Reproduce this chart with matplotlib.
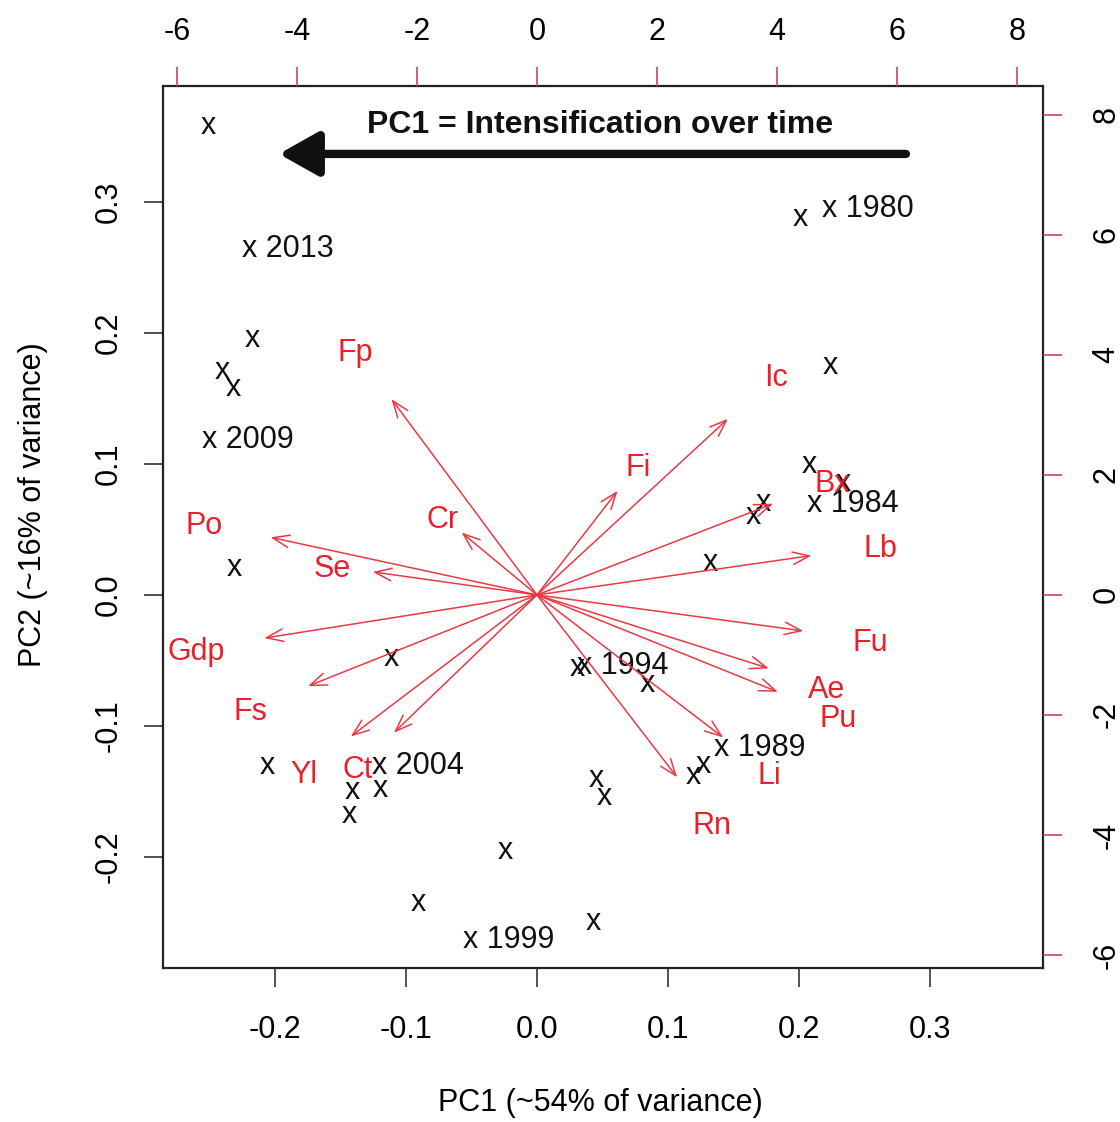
import matplotlib.pyplot as plt
import matplotlib.transforms as mtransforms

plt.rcParams['font.family'] = ['Liberation Sans', 'DejaVu Sans']

# PCA scores (observations), PC1 / PC2
pc1 = [-0.251, -0.190, -0.2176, -0.2405, -0.232, -0.2206, -0.231, -0.1115,
       -0.206, -0.0908, -0.141, -0.120, -0.143, -0.0908, -0.0214, -0.0244,
       0.0427, 0.045, 0.051, 0.0656, 0.0305, 0.084, 0.132, 0.165,
       0.1725, 0.208, 0.2336, 0.241, 0.2237, 0.2008, 0.2527, 0.170,
       0.1267, 0.119]
pc2 = [0.360, 0.266, 0.1977, 0.1733, 0.160, 0.1206, 0.0229, -0.0458,
       -0.128, -0.128, -0.147, -0.146, -0.166, -0.233, -0.261, -0.193,
       -0.247, -0.138, -0.152, -0.052, -0.0534, -0.0656, 0.0267, 0.0626,
       0.0725, 0.1015, 0.0878, 0.0718, 0.177, 0.290, 0.297, -0.1145,
       -0.1275, -0.136]
obs_labels = ["x", "x 2013", "x", "x", "x", "x 2009", "x", "x",
              "x", "x 2004", "x", "x", "x", "x", "x 1999", "x",
              "x", "x", "x", "x 1994", "x", "x", "x", "x",
              "x", "x", "x", "x 1984", "x", "x", "x 1980", "x 1989",
              "x", "x"]

# variable loadings (top / right axis units)
var_names = ["Fp", "Ic", "Fi", "Cr", "Po", "Se", "Gdp", "Fs", "Yl", "Ct",
             "Bx", "Lb", "Fu", "Ae", "Pu", "Li", "Rn"]
load1 = [-3.03, 3.98, 1.68, -1.57, -5.55, -3.42, -5.68, -4.77, -3.88, -2.98,
         4.92, 5.72, 5.55, 4.83, 5.02, 3.88, 2.92]
load2 = [4.08, 3.67, 2.17, 1.30, 1.20, 0.48, -0.90, -1.90, -2.95, -2.87,
         1.90, 0.82, -0.75, -1.53, -2.02, -2.97, -3.80]

red = "#e8202a"
arrowred = "#e83a44"
tickred = "#c84850"
fs = 22

fig = plt.figure(figsize=(11.2, 11.22), dpi=100)
rect = [0.1455, 0.1373, 0.7857, 0.7861]
ax = fig.add_axes(rect)
ax.set_xlim(-0.2855, 0.386)
ax.set_ylim(-0.2847, 0.3885)
tr1 = mtransforms.offset_copy(ax.transData, fig=fig, y=-3, units="dots")

for x, y, lab in zip(pc1, pc2, obs_labels):
    ax.text(x, y, lab, ha="center", va="center", fontsize=fs,
            color="#111111", transform=tr1)

ax.set_xticks([-0.2, -0.1, 0.0, 0.1, 0.2, 0.3])
ax.set_xticklabels(["-0.2", "-0.1", "0.0", "0.1", "0.2", "0.3"])
ax.set_yticks([-0.2, -0.1, 0.0, 0.1, 0.2, 0.3])
ax.set_yticklabels(["-0.2", "-0.1", "0.0", "0.1", "0.2", "0.3"],
                   rotation=90, va="center")
ax.tick_params(labelsize=fs, length=14, width=1.2, color="#333333")
ax.tick_params(axis="x", pad=20)
ax.tick_params(axis="y", pad=14)
ax.set_xlabel("PC1 (~54% of variance)", fontsize=fs)
ax.xaxis.set_label_coords(0.497, -0.136)
ax.set_ylabel("PC2 (~16% of variance)", fontsize=fs)
ax.yaxis.set_label_coords(-0.131, 0.525)
for s in ax.spines.values():
    s.set_linewidth(1.6)
    s.set_color("#222222")

# secondary axes for loadings
ax2 = fig.add_axes(rect, frameon=False)
ax2.set_xlim(-6.233, 8.433)
ax2.set_ylim(-6.217, 8.483)
ax2.xaxis.tick_top()
ax2.yaxis.tick_right()
ax2.set_xticks([-6, -4, -2, 0, 2, 4, 6, 8])
ax2.set_yticks([-6, -4, -2, 0, 2, 4, 6, 8])
ax2.set_xticklabels(["-6", "-4", "-2", "0", "2", "4", "6", "8"])
ax2.set_yticklabels(["-6", "-4", "-2", "0", "2", "4", "6", "8"],
                    rotation=90, va="center")
ax2.tick_params(labelsize=fs, length=14, width=1.2, color=tickred)
ax2.tick_params(axis="x", pad=14)
ax2.tick_params(axis="y", pad=21)
ax2.patch.set_visible(False)
tr2 = mtransforms.offset_copy(ax2.transData, fig=fig, y=-3, units="dots")

for x, y, name in zip(load1, load2, var_names):
    ax2.annotate("", xy=(0.8 * x, 0.8 * y), xytext=(0, 0),
                 arrowprops=dict(arrowstyle="->,head_length=1.2,head_width=0.45",
                                 color=arrowred, lw=1.1, shrinkA=0, shrinkB=0))
    ax2.text(x, y, name, ha="center", va="center", fontsize=fs, color=red,
             transform=tr2)

# annotation arrow
ax2.annotate("", xy=(-4.3, 7.35), xytext=(6.15, 7.35),
             arrowprops=dict(arrowstyle="-|>,head_length=2.4,head_width=1.35",
                             color="#111111", lw=6, shrinkA=0, shrinkB=0))
ax2.text(1.05, 7.88, "PC1 = Intensification over time", ha="center",
         va="center", fontsize=23, fontweight="bold", color="#111111",
         transform=tr2)

fig.savefig("out.png", dpi=100)
